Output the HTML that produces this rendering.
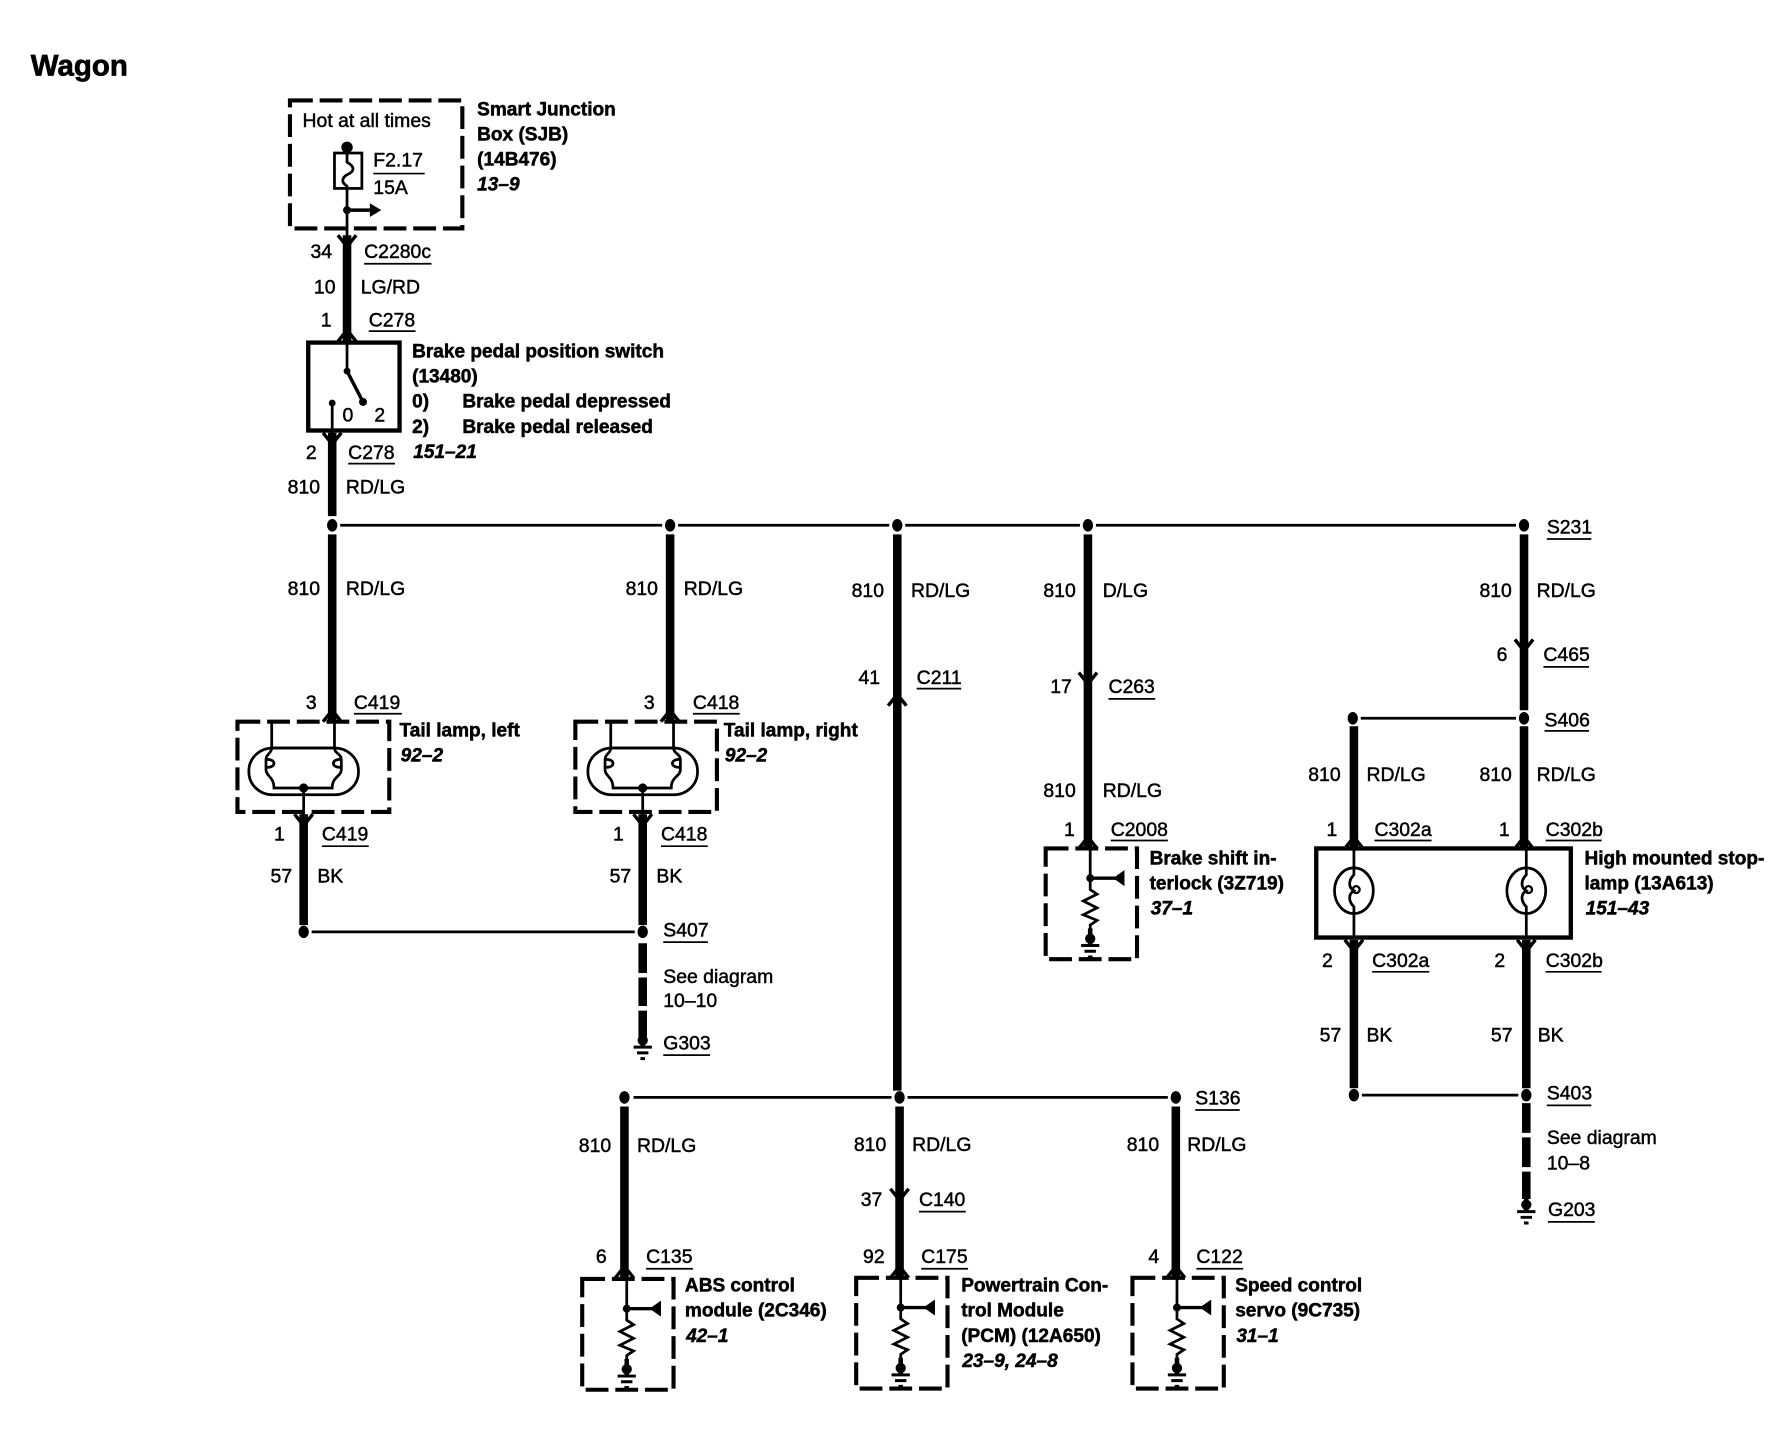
<!DOCTYPE html>
<html><head><meta charset="utf-8"><title>Wagon</title>
<style>
html,body{margin:0;padding:0;background:#fff}
svg{display:block}
text{font-family:"Liberation Sans",Arial,sans-serif;font-size:17px;fill:#000;stroke:#000;stroke-width:.4}
.b{font-weight:bold;font-size:16.7px;stroke-width:.45}
.i{font-weight:bold;font-style:italic;font-size:16.7px;stroke-width:.45}
.t{font-weight:bold;font-size:25.8px;stroke-width:.6}
.w{stroke:#000;stroke-width:7.5;fill:none}
.n{stroke:#000;stroke-width:2.4;fill:none}
.u{stroke:#000;stroke-width:1.5;fill:none}
.d{stroke:#000;stroke-width:3.6;fill:none;stroke-dasharray:20 6}
</style></head><body>
<svg xmlns="http://www.w3.org/2000/svg" width="1790" height="1440" viewBox="0 0 1568 1261" preserveAspectRatio="none">
<defs>
<g id="dn"><path d="M-8,-6 L0,4 L8,-6" stroke="#000" stroke-width="3" fill="none"/></g>
<g id="up"><path d="M-8,6 L0,-4 L8,6" stroke="#000" stroke-width="3" fill="none"/></g>
<ellipse id="dot" cx="0" cy="0" rx="4.5" ry="5.5" fill="#000"/>
<g id="gnd"><path d="M0,-12 V2" stroke="#000" stroke-width="4"/><path d="M-8,3 H8 M-5,8 H5 M-2,13 H2" stroke="#000" stroke-width="2.6"/><circle cx="0" cy="-3" r="4.5" fill="#000"/></g>
<g id="mod">
<rect x="-39" y="0" width="80" height="97" class="d"/>
<path d="M0,0 V36 L6,40 L-6,46 L6,52 L-6,58 L6,63 L0,67 V80" class="n"/>
<path d="M0,26 H24" stroke="#000" stroke-width="3"/>
<path d="M20,26 L30,19 V33 Z" fill="#000"/>
<circle cx="0" cy="26" r="3.5" fill="#000"/>
<use href="#gnd" y="82"/>
</g>
<g id="lamp">
<rect x="-48" y="-35" width="96" height="41" rx="21" ry="20" class="n"/>
<path d="M-28,-58 V-35 H27 V-58" class="n"/>
<path d="M-28,-35 C-28,-30 -33,-30 -33,-25 V-16 C-33,-10 -26,-10 -26,0 H25 C25,-10 33,-10 33,-16 V-25 C33,-30 27,-30 27,-35" class="n"/>
<path d="M-32,-25 C-24,-25 -24,-18 -32,-18 M32,-25 C24,-25 24,-18 32,-18" class="n"/>
<circle cx="0" cy="0" r="4" fill="#000"/>
<path d="M0,0 V25" class="n"/>
</g>
<g id="bulb">
<ellipse cx="0" cy="0" rx="17" ry="20" class="n"/>
<path d="M0,-37 V-14 C-5,-9 -5,-3 0,0 C-5,3 -5,9 0,14 V41" class="n"/>
<circle cx="2" cy="-1" r="3" fill="none" stroke="#000" stroke-width="2"/>
</g>
</defs>

<text x="27" y="66" class="b t">Wagon</text>

<!-- thick wires -->
<path class="w" d="M304,206 V299 M291,379 V452 M291,468 V632 M587,468 V632 M786,468 V955 M953,468 V743 M1335,468 V622 M1335,636 V743 M1186,636 V743 M266,713 V810 M563,713 V810 M1186,823 V953 M1337,823 V953 M547,969 V1119 M788,969 V1119 M1030,969 V1119"/>
<path class="w" d="M563,826 V852 M563,856 V881 M563,885 V908 M1337,966 V992 M1337,996 V1022 M1337,1026 V1050"/>

<!-- thin wires -->
<path class="n" d="M298,460 H580 M594,460 H779 M793,460 H946 M960,460 H1328 M1192,629 H1328 M273,816 H556 M555,961 H781 M795,961 H1023 M1193,959 H1330"/>

<!-- dots -->
<g>
<use href="#dot" x="291" y="460"/><use href="#dot" x="587" y="460"/><use href="#dot" x="786" y="460"/><use href="#dot" x="953" y="460"/><use href="#dot" x="1335" y="460"/>
<use href="#dot" x="1185" y="629"/><use href="#dot" x="1335" y="629"/>
<use href="#dot" x="266" y="816"/><use href="#dot" x="563" y="816"/>
<use href="#dot" x="547" y="961"/><use href="#dot" x="788" y="961"/><use href="#dot" x="1030" y="961"/>
<use href="#dot" x="1186" y="959"/><use href="#dot" x="1337" y="959"/>
</g>

<!-- chevrons -->
<use href="#dn" x="304" y="212"/><use href="#up" x="304" y="293"/><use href="#dn" x="291" y="385"/>
<use href="#up" x="291" y="626"/><use href="#up" x="587" y="626"/>
<use href="#dn" x="266" y="719"/><use href="#dn" x="563" y="719"/>
<use href="#up" x="786" y="612"/><use href="#dn" x="953" y="595"/><use href="#up" x="953" y="737"/>
<use href="#dn" x="1335" y="566"/><use href="#up" x="1186" y="737"/><use href="#up" x="1335" y="737"/>
<use href="#dn" x="1186" y="829"/><use href="#dn" x="1337" y="829"/>
<use href="#dn" x="788" y="1047"/><use href="#up" x="547" y="1113"/><use href="#up" x="788" y="1113"/><use href="#up" x="1030" y="1113"/>

<!-- SJB -->
<rect x="254" y="88" width="151" height="112" class="d"/>
<text x="265" y="111">Hot at all times</text>
<circle cx="304" cy="129" r="5" fill="#000"/>
<rect x="293" y="134" width="24" height="31" fill="#fff" stroke="#000" stroke-width="2.4"/>
<path d="M304,129 V142 C311,146 311,150 304,153 C299,156 299,160 304,163 V207" class="n"/>
<circle cx="304" cy="184" r="3.5" fill="#000"/>
<path d="M304,184 H326" stroke="#000" stroke-width="3"/><path d="M324,178 L334,184 L324,190 Z" fill="#000"/>
<text x="327" y="146">F2.17</text><text x="327" y="170">15A</text>
<text x="418" y="101" class="b">Smart Junction</text>
<text x="418" y="123" class="b">Box (SJB)</text>
<text x="418" y="145" class="b">(14B476)</text>
<text x="418" y="167" class="i">13–9</text>
<text x="272" y="226">34</text><text x="319" y="226">C2280c</text>
<text x="275" y="257">10</text><text x="316" y="257">LG/RD</text>
<text x="281" y="286">1</text><text x="323" y="286">C278</text>

<!-- switch -->
<rect x="270" y="300" width="80" height="77" fill="none" stroke="#000" stroke-width="3.8"/>
<path d="M304,298 V325" class="n"/>
<path d="M304,325 L318,352" stroke="#000" stroke-width="3"/>
<circle cx="304" cy="325" r="3" fill="#000"/><circle cx="318" cy="352" r="3.5" fill="#000"/>
<circle cx="291" cy="353" r="3" fill="#000"/><path d="M291,353 V380" class="n"/>
<text x="300" y="369">0</text><text x="328" y="369">2</text>
<text x="361" y="313" class="b">Brake pedal position switch</text>
<text x="361" y="335" class="b">(13480)</text>
<text x="361" y="357" class="b">0)</text><text x="405" y="357" class="b">Brake pedal depressed</text>
<text x="361" y="379" class="b">2)</text><text x="405" y="379" class="b">Brake pedal released</text>
<text x="362" y="401" class="i">151–21</text>
<text x="268" y="402">2</text><text x="305" y="402">C278</text>
<text x="252" y="432">810</text><text x="303" y="432">RD/LG</text>
<text x="1355" y="467">S231</text>

<!-- tail lamps -->
<text x="252" y="521">810</text><text x="303" y="521">RD/LG</text>
<text x="548" y="521">810</text><text x="599" y="521">RD/LG</text>
<text x="268" y="621">3</text><text x="310" y="621">C419</text>
<text x="564" y="621">3</text><text x="607" y="621">C418</text>
<rect x="208" y="632" width="133" height="79" class="d"/>
<rect x="504" y="632" width="124" height="79" class="d"/>
<use href="#lamp" x="266" y="690"/><use href="#lamp" x="563" y="690"/>
<text x="350" y="645" class="b">Tail lamp, left</text><text x="351" y="667" class="i">92–2</text>
<text x="634" y="645" class="b">Tail lamp, right</text><text x="635" y="667" class="i">92–2</text>
<text x="240" y="736">1</text><text x="282" y="736">C419</text>
<text x="537" y="736">1</text><text x="579" y="736">C418</text>
<text x="237" y="773">57</text><text x="278" y="773">BK</text>
<text x="534" y="773">57</text><text x="575" y="773">BK</text>
<text x="581" y="820">S407</text>
<text x="581" y="861">See diagram</text><text x="581" y="882">10–10</text>
<use href="#gnd" x="563" y="914"/>
<text x="581" y="919">G303</text>

<!-- centre column -->
<text x="746" y="523">810</text><text x="798" y="523">RD/LG</text>
<text x="752" y="599">41</text><text x="803" y="599">C211</text>

<!-- D/LG column -->
<text x="914" y="523">810</text><text x="966" y="523">D/LG</text>
<text x="920" y="607">17</text><text x="971" y="607">C263</text>
<text x="914" y="698">810</text><text x="966" y="698">RD/LG</text>
<text x="932" y="732">1</text><text x="973" y="732">C2008</text>
<use href="#mod" x="955" y="743"/>
<text x="1007" y="757" class="b">Brake shift in-</text>
<text x="1007" y="779" class="b">terlock (3Z719)</text>
<text x="1008" y="801" class="i">37–1</text>

<!-- right column -->
<text x="1296" y="523">810</text><text x="1346" y="523">RD/LG</text>
<text x="1311" y="579">6</text><text x="1352" y="579">C465</text>
<text x="1353" y="636">S406</text>
<text x="1146" y="684">810</text><text x="1197" y="684">RD/LG</text>
<text x="1296" y="684">810</text><text x="1346" y="684">RD/LG</text>
<text x="1162" y="732">1</text><text x="1204" y="732">C302a</text>
<text x="1313" y="732">1</text><text x="1354" y="732">C302b</text>
<rect x="1153" y="743" width="223" height="78" fill="none" stroke="#000" stroke-width="3.8"/>
<use href="#bulb" x="1186" y="780"/><use href="#bulb" x="1337" y="780"/>
<text x="1388" y="757" class="b">High mounted stop-</text>
<text x="1388" y="779" class="b">lamp (13A613)</text>
<text x="1389" y="801" class="i">151–43</text>
<text x="1158" y="847">2</text><text x="1202" y="847">C302a</text>
<text x="1309" y="847">2</text><text x="1354" y="847">C302b</text>
<text x="1156" y="912">57</text><text x="1197" y="912">BK</text>
<text x="1306" y="912">57</text><text x="1347" y="912">BK</text>
<text x="1355" y="963">S403</text>
<text x="1355" y="1002">See diagram</text><text x="1355" y="1024">10–8</text>
<use href="#gnd" x="1337" y="1058"/>
<text x="1356" y="1065">G203</text>

<!-- bottom modules -->
<text x="1047" y="967">S136</text>
<text x="507" y="1009">810</text><text x="558" y="1009">RD/LG</text>
<text x="748" y="1008">810</text><text x="799" y="1008">RD/LG</text>
<text x="987" y="1008">810</text><text x="1040" y="1008">RD/LG</text>
<text x="754" y="1056">37</text><text x="805" y="1056">C140</text>
<text x="522" y="1106">6</text><text x="566" y="1106">C135</text>
<text x="756" y="1106">92</text><text x="807" y="1106">C175</text>
<text x="1006" y="1106">4</text><text x="1048" y="1106">C122</text>
<use href="#mod" x="549" y="1120"/>
<use href="#mod" x="789" y="1119"/>
<use href="#mod" x="1031" y="1119"/>
<text x="600" y="1131" class="b">ABS control</text>
<text x="600" y="1153" class="b">module (2C346)</text>
<text x="601" y="1175" class="i">42–1</text>
<text x="842" y="1131" class="b">Powertrain Con-</text>
<text x="842" y="1153" class="b">trol Module</text>
<text x="842" y="1175" class="b">(PCM) (12A650)</text>
<text x="843" y="1197" class="i">23–9, 24–8</text>
<text x="1082" y="1131" class="b">Speed control</text>
<text x="1082" y="1153" class="b">servo (9C735)</text>
<text x="1083" y="1175" class="i">31–1</text>

<!-- label underlines -->
<path class="u" d="M327,152 H372 M319,231 H378 M323,290 H364 M305,406 H346 M1355,472 H1394 M310,625 H352 M607,625 H648 M282,741 H323 M579,741 H620 M581,825 H620 M581,924 H622 M803,603 H842 M971,612 H1012 M973,736 H1023 M1352,584 H1392 M1353,640 H1392 M1204,736 H1254 M1354,736 H1403 M1202,851 H1252 M1354,851 H1403 M1355,968 H1394 M1356,1070 H1397 M1047,972 H1086 M805,1061 H846 M566,1111 H607 M807,1111 H848 M1048,1111 H1089"/>
</svg>
</body></html>
